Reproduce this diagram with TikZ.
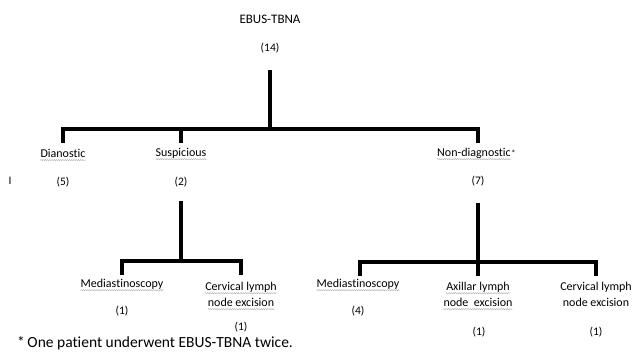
\documentclass[tikz,border=0pt]{standalone}
\usepackage{fontspec}
\setmainfont{Carlito}[Ligatures=NoCommon]
\usetikzlibrary{decorations.pathmorphing}
\tikzset{>=latex}
\tikzset{
  lbl/.style={inner sep=0pt, font=\fontsize{12}{14}\selectfont},
  cnt/.style={inner sep=0pt, font=\fontsize{11.5}{13}\selectfont},
  bar/.style={line width=3.2pt, line cap=rect, line join=miter},
  squig/.style={draw=gray!55, line width=0.5pt, decorate,
                decoration={snake, amplitude=0.6pt, segment length=2.2pt}},
}
\newcommand{\wavy}[1]{\draw[squig] ([yshift=-3pt]#1.base west) -- ([yshift=-3pt]#1.base east);}

\begin{document}
\begin{tikzpicture}[x=1pt,y=-1pt]
  \useasboundingbox (0,0) rectangle (637,352);
  % root
  \node[lbl, font=\fontsize{13}{15}\selectfont] (ebus) at (270,19) {EBUS-TBNA};
  \node[cnt] (n14) at (270,48) {(14)};
  % first level
  \node[lbl] (diag) at (63,153) {Dianostic};
  \node[cnt] (n5)   at (63,182) {(5)};
  \node[lbl] (susp) at (181,153) {Suspicious};
  \node[cnt] (n2)   at (181,182) {(2)};
  \node[lbl] (nond) at (474,153) {Non-diagnostic};
  \node[inner sep=0pt, font=\small, anchor=west] (ast) at (nond.east) {*};
  \node[cnt] (n7)   at (478,181) {(7)};
  \node[cnt] (mark) at (10,181) {I};
  % second level, suspicious
  \node[lbl] (med1)  at (122,284) {Mediastinoscopy};
  \node[cnt] (m1)    at (122,311) {(1)};
  \node[lbl] (cerv1) at (241,287) {Cervical lymph};
  \node[lbl] (cerv1b) at (241,302) {node excision};
  \node[cnt] (c1)    at (241,327) {(1)};
  % second level, non-diagnostic
  \node[lbl] (med2)  at (358,284) {Mediastinoscopy};
  \node[cnt] (m2)    at (358,311) {(4)};
  \node[lbl] (axil)  at (478,287) {Axillar lymph};
  \node[lbl] (axilb) at (478,302) {node~~excision};
  \node[cnt] (a1)    at (479,332) {(1)};
  \node[lbl] (cerv2) at (596,287) {Cervical lymph};
  \node[lbl] (cerv2b) at (596,302) {node excision};
  \node[cnt] (c2)    at (596,332) {(1)};
  % footnote
  \node[inner sep=0pt, font=\fontsize{15.5}{17}\selectfont, anchor=west] (note) at (17,343)
    {*\,One patient underwent EBUS-TBNA twice.};
  % spell-check marks
  \foreach \w in {diag,susp,nond,med1,cerv1,cerv1b,med2,axil,axilb} {\wavy{\w}}
  % junctions
  \coordinate (r0) at (270,72);
  \coordinate (r1) at (270,129);
  \coordinate (s0) at (181,203);
  \coordinate (s1) at (181,261);
  \coordinate (d0) at (478,205);
  \coordinate (d1) at (478,262);
  % tree lines
  \draw[bar] (r0) -- (r1);
  \draw[bar] (63,141) -- (63,129) -| (478,141);
  \draw[bar] (181,129) -- (181,141);
  \draw[bar] (s0) -- (s1);
  \draw[bar] (122,273) |- (s1) -| (241,273);
  \draw[bar] (d0) -- (d1);
  \draw[bar] (360,274) |- (d1) -| (596,274);
  \draw[bar] (d1) -- (478,274);
\end{tikzpicture}
\end{document}
